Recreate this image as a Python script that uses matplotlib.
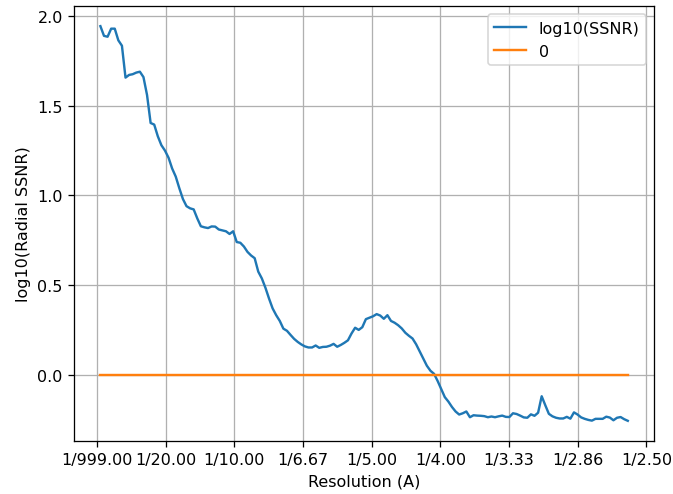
import numpy as np
import matplotlib
matplotlib.use("Agg")
import matplotlib.pyplot as plt

# log10 of radial SSNR
ssnr_log = [
    1.944, 1.89, 1.885, 1.93, 1.93, 1.865, 1.835, 1.657, 1.672, 1.676,
    1.685, 1.69, 1.66, 1.56, 1.404, 1.395, 1.33, 1.28, 1.25, 1.21,
    1.15, 1.105, 1.04, 0.98, 0.94, 0.928, 0.922, 0.872, 0.828, 0.822,
    0.818, 0.827, 0.826, 0.81, 0.805, 0.80, 0.785, 0.80, 0.74, 0.736,
    0.715, 0.685, 0.665, 0.65, 0.575, 0.537, 0.485, 0.425, 0.37, 0.332,
    0.30, 0.257, 0.245, 0.222, 0.20, 0.183, 0.169, 0.158, 0.152, 0.152,
    0.163, 0.150, 0.155, 0.156, 0.162, 0.172, 0.156, 0.166, 0.178, 0.192,
    0.23, 0.262, 0.250, 0.265, 0.31, 0.318, 0.326, 0.338, 0.33, 0.312,
    0.332, 0.30, 0.29, 0.276, 0.258, 0.234, 0.217, 0.202, 0.17, 0.13,
    0.09, 0.05, 0.022, 0.005, -0.035, -0.08, -0.125, -0.15, -0.18, -0.205,
    -0.222, -0.215, -0.205, -0.237, -0.226, -0.228, -0.229, -0.231, -0.237, -0.233,
    -0.237, -0.232, -0.228, -0.235, -0.236, -0.215, -0.219, -0.228, -0.238, -0.24,
    -0.221, -0.229, -0.212, -0.12, -0.17, -0.218, -0.232, -0.24, -0.244, -0.244,
    -0.235, -0.245, -0.21, -0.222, -0.238, -0.246, -0.252, -0.256, -0.246, -0.246,
    -0.246, -0.234, -0.239, -0.254, -0.24, -0.236, -0.248, -0.257,
]
freq_start = 0.0024
freq_end = 0.3865
freqs = np.linspace(freq_start, freq_end, len(ssnr_log))

tick_freqs = [0.0, 0.05, 0.10, 0.15, 0.20, 0.25, 0.30, 0.35, 0.40]
tick_labels = ["1/999.00", "1/20.00", "1/10.00", "1/6.67", "1/5.00",
               "1/4.00", "1/3.33", "1/2.86", "1/2.50"]

#the reference looks like it was drawn at a slightly higher dpi
dpi = 115
fig, ax = plt.subplots(figsize=(673 / dpi, 495 / dpi), dpi=dpi)
fig.subplots_adjust(left=0.110, right=0.972, bottom=0.108, top=0.985)

ax.plot(freqs, ssnr_log, label="log10(SSNR)")
ax.plot(freqs, np.zeros_like(freqs), label="0")

ax.set_xticks(tick_freqs)
ax.set_xticklabels(tick_labels)
ax.set_xlabel("Resolution (A)")
ax.set_ylabel("log10(Radial SSNR)")
ax.grid(True)
ax.legend(loc="upper right")

fig.savefig("out.png", dpi=dpi)
